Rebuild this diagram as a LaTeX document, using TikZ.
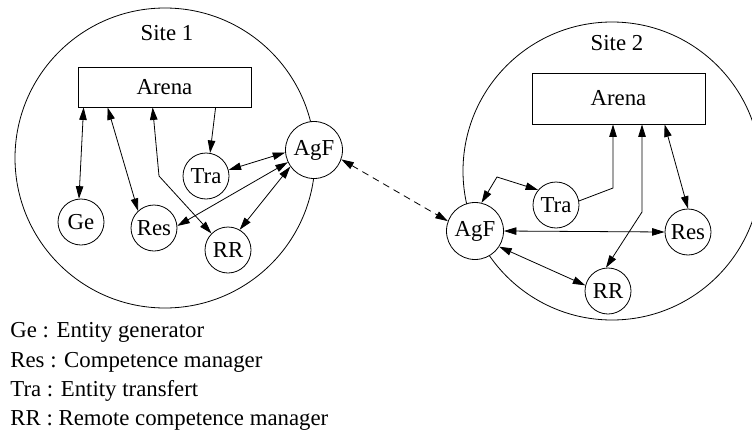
\documentclass[tikz,border=0pt]{standalone}
\usepackage{fontspec}
\setmainfont{Liberation Serif}
\usetikzlibrary{arrows.meta}
\begin{document}
\begin{tikzpicture}[x=1pt,y=-1pt,line width=0.8pt,
  every node/.style={font=\fontsize{22.8}{27}\selectfont},
  comp/.style={draw,circle,fill=white,inner sep=0pt,minimum size=46pt},
  hub/.style={draw,circle,fill=white,inner sep=0pt,minimum size=57pt},
  arenabox/.style={draw,rectangle,inner sep=0pt,minimum width=173pt},
  both/.style={{Triangle[length=12.5pt,width=7.5pt]}-{Triangle[length=12.5pt,width=7.5pt]}},
  onedir/.style={-{Triangle[length=12.5pt,width=7.5pt]}},
  legend/.style={anchor=base west,inner sep=0pt}]
\useasboundingbox (0,0) rectangle (752,431);

% the two sites
\draw (165,158) circle[radius=150];
\draw (612,171) circle[radius=149];
\node[anchor=base,inner sep=0pt] (s1) at (167,40) {Site 1};
\node[anchor=base,inner sep=0pt] (s2) at (617,50) {Site 2};

% site 1 components
\node[arenabox,minimum height=40pt] (arena1) at (164.5,87) {Arena};
\node[comp] (ge1)  at (81,222)  {Ge};
\node[comp] (res1) at (154,228) {Res};
\node[comp] (rr1)  at (228,250) {RR};
\node[comp] (tra1) at (206,176) {Tra};
\node[hub]  (agf1) at (314,150) {AgF};

% site 2 components
\node[arenabox,minimum height=51pt] (arena2) at (618.5,98.5) {Arena};
\node[comp] (tra2) at (556,205) {Tra};
\node[comp] (res2) at (688,232) {Res};
\node[comp] (rr2)  at (608,291) {RR};
\node[hub]  (agf2) at (475,231) {AgF};

% bend points
\coordinate (k1) at (159,176);
\coordinate (k2) at (497,177);
\coordinate (k3) at (613,188);
\coordinate (k4) at (642,212);

% site 1 links
\draw[both]   ([xshift=6pt]arena1.south west) -- (ge1.95);
\draw[both]   ([xshift=30pt]arena1.south west) -- (res1.133);
\draw[both]   ([xshift=75pt]arena1.south west) -- (k1) -- (rr1.135);
\draw[onedir] ([xshift=138pt]arena1.south west) -- (tra1.80);
\draw[both]   (tra1.15) -- (agf1.185);
\draw[both]   (res1.5) -- (agf1.205);
\draw[both]   (rr1.60) -- (agf1.215);

% link between the two sites
\draw[both,dashed,dash pattern=on 7pt off 5pt] (agf1.-19) -- (agf2.160);

% site 2 links
\draw[both]   (agf2.77) -- (k2) -- (tra2.140);
\draw[onedir] (tra2.10) -- (k3) -- (k3 |- arena2.south);
\draw[both]   (k4 |- arena2.south) -- (k4) -- (rr2.95);
\draw[both]   ([xshift=133pt]arena2.south west) -- (res2.north);
\draw[both]   (agf2.east) -- (res2.west);
\draw[both]   (agf2.-33) -- (rr2.166);

% legend
\node[legend] (l1) at (10,337) {Ge : Entity generator};
\node[legend] (l2) at (10,367) {Res : Competence manager};
\node[legend] (l3) at (10,396) {Tra : Entity transfert};
\node[legend] (l4) at (10,425) {RR : Remote competence manager};
\end{tikzpicture}
\end{document}
